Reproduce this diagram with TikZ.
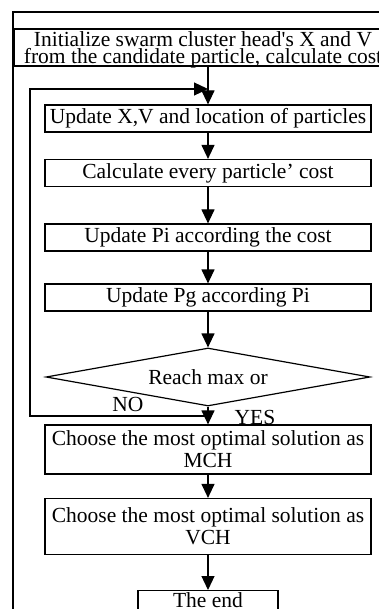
\documentclass[tikz,border=0pt]{standalone}
\usepackage{fontspec}
\setmainfont{Liberation Serif}
\usetikzlibrary{shapes.geometric,arrows.meta}

\begin{document}
\begin{tikzpicture}[x=1pt,y=-1pt,>={Triangle[length=14pt,width=13pt]}]
	% Text size for this sheet
	\tikzstyle{every node}=[font=\fontsize{21.5}{22}\selectfont,inner sep=0pt]
	\tikzstyle{stepbox}=[draw,line width=1.2pt,minimum width=326pt,minimum height=27pt,align=center]
	\tikzstyle{flow}=[->,line width=1.2pt]
	\useasboundingbox (0,0) rectangle (379,609);

	% outer frame of the sheet
	\draw[line width=2pt] (13,609) -- (13,12) -- (379,12);
	% first step, it runs past the right edge
	\node[draw,line width=2pt,anchor=north west,minimum width=378pt,minimum height=37pt,align=center,
		text depth=0pt,font=\fontsize{21.5}{14.5}\selectfont] (init) at (13,28)
		{Initialize swarm cluster head\textquotesingle s X and V\\from the candidate particle, calculate cost};

	% steps inside the loop
	\node[stepbox] (upd) at (208,118.5) {Update X,V and location of particles};
	\node[stepbox] (cost) at (208,173) {Calculate every particle' cost};
	\node[stepbox] (pi) at (208,237.5) {Update Pi according the cost};
	\node[stepbox] (pg) at (208,297.5) {Update Pg according Pi};
	% the test
	\node[draw,line width=1.2pt,diamond,aspect=5.5,minimum width=324pt,minimum height=58pt] (reach) at (208,377) {Reach max or};
	% steps after the loop
	\node[stepbox,minimum height=49pt] (mch) at (208,449.5) {Choose the most optimal solution as\\MCH};
	\node[stepbox,minimum height=56pt] (vch) at (208,526.5) {Choose the most optimal solution as\\VCH};
	\node[stepbox,minimum width=140pt,minimum height=20pt,anchor=north] (fin) at (208,590) {The end};

	% branch labels
	\node (no) at (128,404) {NO};
	\node (yes) at (255,417) {YES};

	% arrows down the chart
	\draw[flow] (init.south -| upd.north) -- (upd.north);
	\draw[flow] (upd) -- (cost);
	\draw[flow] (cost) -- (pi);
	\draw[flow] (pi) -- (pg);
	\draw[flow] (pg) -- (reach);
	\draw[flow] (reach) -- (mch);
	\draw[flow] (mch) -- (vch);
	\draw[flow] (vch) -- (fin);
	% NO branch back up to the first step
	\coordinate (nocorner) at (30,416);
	\coordinate (loopcorner) at (30,89);
	\draw[flow] (reach.south |- nocorner) -- (nocorner) -- (loopcorner) -- (loopcorner -| upd.north);
\end{tikzpicture}
\end{document}
